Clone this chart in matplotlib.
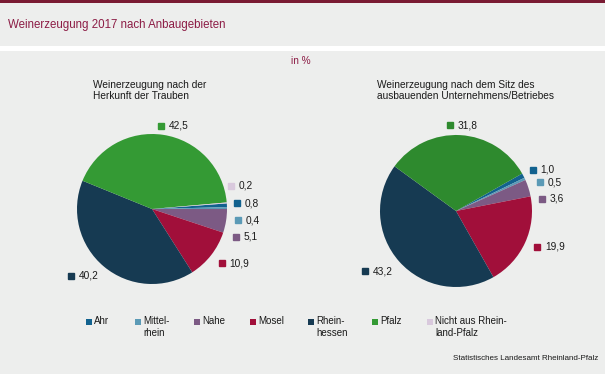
import matplotlib.pyplot as plt
import matplotlib.patches as mpatches
import numpy as np

plt.rcParams["font.family"] = ["Liberation Sans", "DejaVu Sans"]

W, H = 605, 374
BG = "#edeeed"
TITLE_COLOR = "#8c1c45"
TEXT_COLOR = "#1a1a1a"

# data
regions = ["Ahr", "Mittel-\nrhein", "Nahe", "Mosel", "Rhein-\nhessen", "Pfalz", "Nicht aus Rhein-\nland-Pfalz"]
colors = ["#12628f", "#5b9ab6", "#7c5a84", "#a10f3a", "#163a52", "#349a34", "#d9c9dd"]
colors_sitz = ["#12628f", "#5b9ab6", "#7c5a84", "#a10f3a", "#163a52", "#2e8a2e", "#d9c9dd"]
herkunft = [0.8, 0.4, 5.1, 10.9, 40.2, 42.5, 0.2]
sitz = [1.0, 0.5, 3.6, 19.9, 43.2, 31.8, 0.0]
herkunft_labels = ["0,8", "0,4", "5,1", "10,9", "40,2", "42,5", "0,2"]
sitz_labels = ["1,0", "0,5", "3,6", "19,9", "43,2", "31,8", ""]

# label positions in pie units (radius = 1), layout only
herkunft_pos = [(1.13, 0.08), (1.15, -0.15), (1.12, -0.37), (0.93, -0.72),
                (-1.08, -0.89), (0.12, 1.11), (1.05, 0.31)]
sitz_pos = [(1.01, 0.54), (1.11, 0.38), (1.13, 0.16), (1.07, -0.47),
            (-1.20, -0.79), (-0.08, 1.13), None]

fig = plt.figure(figsize=(W / 100, H / 100), dpi=100)
fig.patch.set_facecolor("white")


def px_rect(x0, y0, x1, y1, color, z=-1):
    fig.patches.append(mpatches.Rectangle((x0 / W, 1 - y1 / H), (x1 - x0) / W, (y1 - y0) / H,
                                          transform=fig.transFigure, facecolor=color,
                                          edgecolor="none", zorder=z))


# background blocks
px_rect(0, 0, W, 46, BG)
px_rect(0, 0, W, 2.5, "#7a1b33")
px_rect(0, 51, W, H, BG)

fig.text(8 / W, 1 - 25 / H, "Weinerzeugung 2017 nach Anbaugebieten", fontsize=8.3,
         color=TITLE_COLOR, va="center", ha="left")
fig.text(301 / W, 1 - 61 / H, "in %", fontsize=7.2, color=TITLE_COLOR, va="center", ha="center")

fig.text(93 / W, 1 - 79.5 / H, "Weinerzeugung nach der\nHerkunft der Trauben", fontsize=7.25,
         color=TEXT_COLOR, va="top", ha="left", linespacing=1.2)
fig.text(377 / W, 1 - 79.5 / H, "Weinerzeugung nach dem Sitz des\nausbauenden Unternehmens/Betriebes",
         fontsize=7.25, color=TEXT_COLOR, va="top", ha="left", linespacing=1.2)


def draw_pie(cx, cy, r, values, labels, positions, start, cols):
    k = 1.45
    ax = fig.add_axes([(cx - k * r) / W, 1 - (cy + k * r) / H, 2 * k * r / W, 2 * k * r / H])
    ax.pie(values, colors=cols, startangle=start, counterclock=False, radius=1,
           wedgeprops=dict(linewidth=0))
    ax.set_xlim(-k, k)
    ax.set_ylim(-k, k)
    ax.set_aspect("equal")
    ax.axis("off")
    for lab, pos, col in zip(labels, positions, cols):
        if pos is None:
            continue
        ax.plot(pos[0], pos[1], marker="s", markersize=4.3, color=col, linestyle="none",
                clip_on=False)
        ax.text(pos[0] + 0.1, pos[1], lab, fontsize=7.3, color=TEXT_COLOR, va="center",
                ha="left", clip_on=False)
    return ax


draw_pie(152, 209, 75, herkunft, herkunft_labels, herkunft_pos, 4.3, colors)
draw_pie(456, 211, 76, sitz, sitz_labels, sitz_pos, 29.5, colors_sitz)

# legend
legend_x = [89, 138, 197, 253, 311, 375, 430]
for x, name, col in zip(legend_x, regions, colors):
    px_rect(x - 3, 319, x + 3, 325, col, z=2)
    fig.text((x + 5) / W, 1 - 316 / H, name, fontsize=7, color=TEXT_COLOR, va="top",
             ha="left", linespacing=1.2)

fig.text(598 / W, 1 - 359 / H, "Statistisches Landesamt Rheinland-Pfalz", fontsize=5.8,
         color=TEXT_COLOR, va="center", ha="right")

fig.savefig("out.png", dpi=100, facecolor=fig.get_facecolor())
